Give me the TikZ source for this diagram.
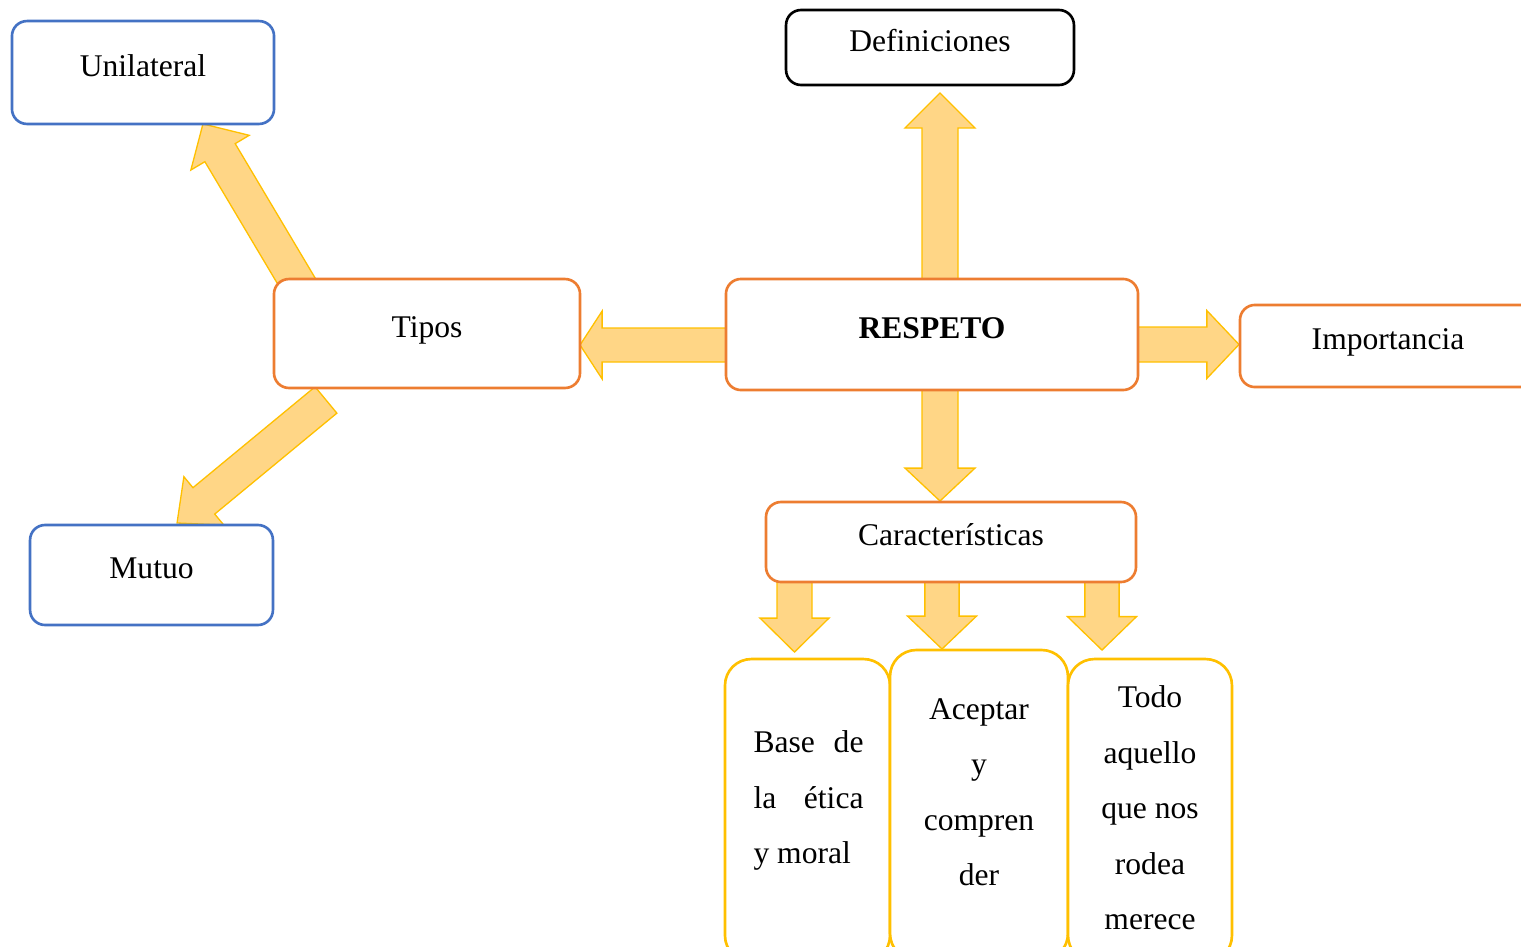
\documentclass[tikz,border=0pt]{standalone}
\usepackage{fontspec}
\setmainfont{Liberation Serif}
\usepackage{tikz}
\usetikzlibrary{calc,backgrounds}

\definecolor{boxblue}{HTML}{4472C4}
\definecolor{boxorange}{HTML}{ED7D31}
\definecolor{boxyellow}{HTML}{FFC000}
\definecolor{arrowfill}{HTML}{FFD686}

\tikzset{
  box/.style={draw, rounded corners=5.7pt, line width=1pt, outer sep=0pt, fill=white, text height=8pt, text depth=5.3pt},
  bluebox/.style={box, draw=boxblue},
  orangebox/.style={box, draw=boxorange},
  blackbox/.style={box, draw=black},
  tallbox/.style={draw=boxyellow, rounded corners=10pt, line width=1pt, outer sep=0pt, fill=white},
  blockarr/.style={draw=boxyellow, fill=arrowfill, line width=0.5pt, line join=miter},
}

% block arrow: tail, tip, half shaft, half head, head length
\newcommand{\blockarrow}[5]{%
  \coordinate (ba-h) at ($(#2)!#5!(#1)$);
  \draw[blockarr] ($(#1)!#3!90:(#2)$) -- ($(ba-h)!#3!90:(#2)$) -- ($(ba-h)!#4!90:(#2)$) -- (#2)
    -- ($(ba-h)!#4!-90:(#2)$) -- ($(ba-h)!#3!-90:(#2)$) -- ($(#1)!#3!-90:(#2)$) -- cycle;
}

\begin{document}
\begin{tikzpicture}[x=0.38pt, y=-0.38pt, font=\fontsize{12}{21.1}\selectfont]
\useasboundingbox (0,0) rectangle (1521,947);
\clip (0,0) rectangle (1521,947);

% boxes
\node[bluebox, minimum width=99.6pt, minimum height=39.1pt] (unil) at (143,72.5) {Unilateral};
\node[blackbox, minimum width=109.4pt, minimum height=28.5pt] (def) at (930,47.5) {Definiciones};
\node[orangebox, minimum width=116.3pt, minimum height=41.4pt] (tipos) at (427,333.5) {Tipos};
\node[orangebox, minimum width=156.6pt, minimum height=42.2pt, font=\fontsize{12}{21.1}\selectfont\bfseries] (resp) at (932,334.5) {RESPETO};
\node[orangebox, minimum width=112.5pt, minimum height=31.2pt] (imp) at (1388,346) {Importancia};
\node[bluebox, minimum width=92.3pt, minimum height=38pt] (mutuo) at (151.5,575) {Mutuo};
\node[orangebox, minimum width=140.6pt, minimum height=30.4pt] (car) at (951,542) {Características};

\node[tallbox, minimum width=62.7pt, minimum height=115.1pt] (base) at (807.5,810.5) {};
\node[tallbox, minimum width=67.6pt, minimum height=117.8pt] (acep) at (979,805) {};
\node[tallbox, minimum width=62.3pt, minimum height=115.1pt] (todo) at (1150,810.5) {};

\node[anchor=north west, inner sep=0pt, align=left] (basetxt) at ($(base.north west)+(28,71)$)
  {\hbox to 41.8pt{Base\hfill de}\\\hbox to 41.8pt{la\hfill ética}\\y moral};
\node[anchor=north, inner sep=0pt, align=center] (aceptxt) at ($(acep.north)+(0,48)$)
  {Aceptar\\y\\compren\\der};
\node[anchor=north, inner sep=0pt, align=center] (todotxt) at ($(todo.north)+(0,26)$)
  {Todo\\aquello\\que nos\\rodea\\merece};

% arrows
\begin{pgfonlayer}{background}
\coordinate (a1t) at ($(tipos.north west)+(29,13)$);
\coordinate (a1h) at ($(unil.south west)+(191,0)$);
\blockarrow{a1t}{a1h}{6.7pt}{12.9pt}{12.7pt}

\coordinate (a2t) at ($(tipos.south west)+(52,12)$);
\coordinate (a2h) at ($(mutuo.north west)+(147,-2)$);
\blockarrow{a2t}{a2h}{6.5pt}{11.9pt}{13.2pt}

\coordinate (a3t) at ($(resp.west)+(8,10.5)$);
\coordinate (a3h) at ($(tipos.east)+(0,11.5)$);
\blockarrow{a3t}{a3h}{6.46pt}{12.9pt}{8.4pt}

\coordinate (a4t) at ($(resp.north)+(8,8)$);
\coordinate (a4h) at ($(def.south)+(10,8)$);
\blockarrow{a4t}{a4h}{6.84pt}{13.3pt}{13.3pt}

\coordinate (a5t) at ($(resp.east)+(-8,10)$);
\coordinate (a5h) at ($(imp.west)+(-1,-1.5)$);
\blockarrow{a5t}{a5h}{6.65pt}{12.9pt}{12.2pt}

\coordinate (a6t) at ($(resp.south)+(8,-8)$);
\coordinate (a6h) at ($(car.north)+(-11,-1)$);
\blockarrow{a6t}{a6h}{6.84pt}{13.3pt}{12.5pt}

\coordinate (a7t) at ($(car.south west)+(28.5,-8)$);
\coordinate (a7h) at ($(base.north)+(-13,-7)$);
\blockarrow{a7t}{a7h}{6.65pt}{13.1pt}{12.9pt}

\coordinate (a8t) at ($(car.south)+(-9,-8)$);
\coordinate (a8h) at ($(acep.north)+(-37,-1)$);
\blockarrow{a8t}{a8h}{6.5pt}{13.1pt}{12.5pt}

\coordinate (a9t) at ($(car.south east)+(-34,-8)$);
\coordinate (a9h) at ($(todo.north)+(-48,-9)$);
\blockarrow{a9t}{a9h}{6.5pt}{13.1pt}{12.7pt}
\end{pgfonlayer}
\end{tikzpicture}
\end{document}
